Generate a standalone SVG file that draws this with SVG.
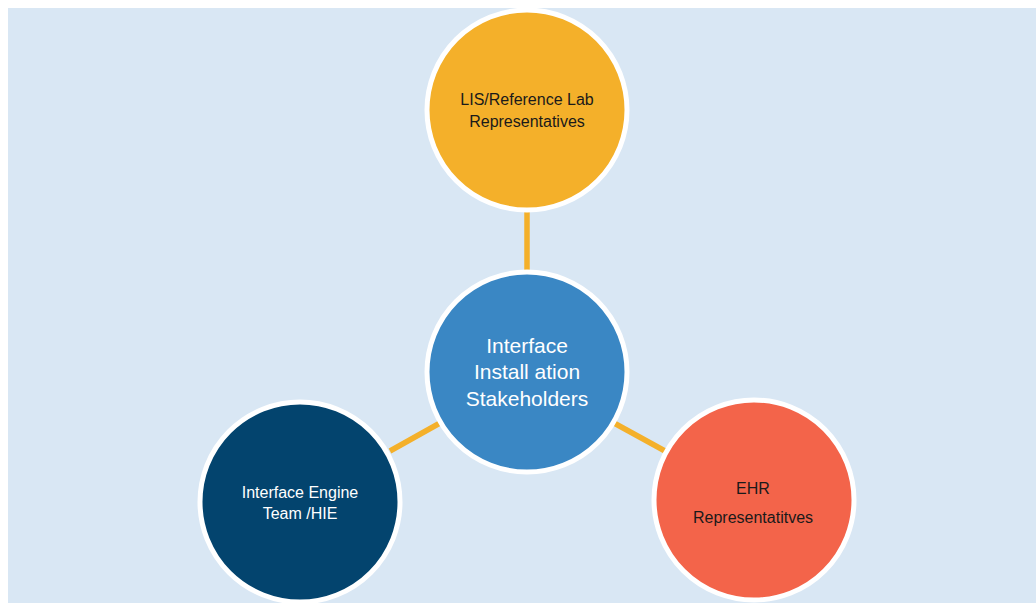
<svg xmlns="http://www.w3.org/2000/svg" width="1036" height="603" viewBox="0 0 1036 603">
  <style>
    .node { stroke: #FFFFFF; stroke-width: 5; }
    .link { stroke: #F4B02A; stroke-width: 5.5; fill: none; }
    .lbl { font-family: "Liberation Sans", "Open Sans", sans-serif; text-anchor: middle; }
    .dark { fill: #1A1A1A; font-size: 16px; }
    .light { fill: #FFFFFF; font-size: 16px; }
    .big { fill: #FFFFFF; font-size: 21px; }
  </style>
  <rect x="0" y="0" width="1036" height="603" fill="#FFFFFF"/>
  <rect x="8" y="8" width="1028" height="595" fill="#D9E7F4"/>

  <g id="connectors">
    <line class="link" x1="527" y1="212" x2="527" y2="272"/>
    <line class="link" x1="390" y1="451" x2="440" y2="423"/>
    <line class="link" x1="614" y1="423" x2="665" y2="451"/>
  </g>

  <g id="node-lis">
    <circle class="node" cx="527" cy="110" r="100" fill="#F4B02A"/>
    <text class="lbl dark" x="527" y="105">LIS/Reference Lab</text>
    <text class="lbl dark" x="527" y="127">Representatives</text>
  </g>

  <g id="node-center">
    <circle class="node" cx="527" cy="372" r="100" fill="#3A87C4"/>
    <text class="lbl big" x="527" y="353">Interface</text>
    <text class="lbl big" x="527" y="379">Install ation</text>
    <text class="lbl big" x="527" y="406">Stakeholders</text>
  </g>

  <g id="node-engine">
    <circle class="node" cx="300" cy="502" r="100" fill="#03446E"/>
    <text class="lbl light" x="300" y="498">Interface Engine</text>
    <text class="lbl light" x="300" y="519">Team /HIE</text>
  </g>

  <g id="node-ehr">
    <circle class="node" cx="754" cy="500" r="100" fill="#F3644A"/>
    <text class="lbl dark" x="753" y="494">EHR</text>
    <text class="lbl dark" x="753" y="523">Representatitves</text>
  </g>
</svg>
